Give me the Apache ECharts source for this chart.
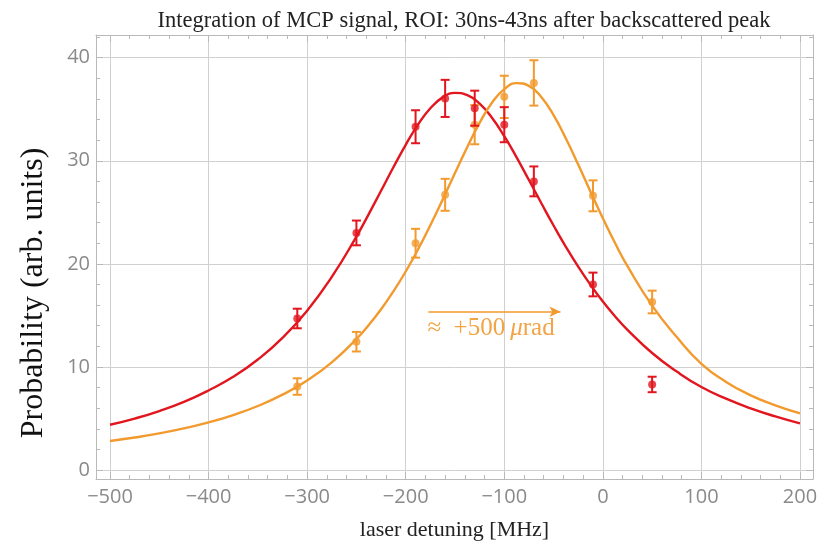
<!DOCTYPE html>
<html>
<head>
<meta charset="utf-8">
<script src="https://cdn.jsdelivr.net/npm/echarts@6/dist/echarts.min.js"></script>
<style>
  html, body { margin: 0; padding: 0; background: #ffffff; }
  #chart { width: 831px; height: 541px; }
</style>
</head>
<body>
<div id="chart"></div>
<script>
// Measured detunings (MHz)
const detuning = [-310, -250, -190, -160, -130, -100, -70, -10, 50];

// Red data set: probability and its uncertainty
const redValues = [14.7, 23.0, 33.3, 36.05, 35.1, 33.5, 28.0, 18.0, 8.3];
const redErrors = [0.95, 1.2, 1.6, 1.8, 1.7, 1.7, 1.45, 1.15, 0.75];

// Orange data set (shifted by ≈ +500 µrad)
const orangeValues = [8.1, 12.45, 22.0, 26.7, 33.5, 36.2, 37.55, 26.6, 16.3];
const orangeErrors = [0.8, 0.95, 1.4, 1.55, 1.9, 2.05, 2.2, 1.5, 1.1];

// Fitted line shapes, sampled more densely around the resonances
const fitDetuning = [-500, -475, -450, -425, -400, -375, -350, -325, -300, -275,
  -250, -237.5, -225, -212.5, -200, -187.5, -175, -162.5, -150, -137.5,
  -125, -112.5, -100, -87.5, -75, -62.5, -50, -37.5, -25, -12.5,
  0, 12.5, 25, 50, 75, 100, 125, 150, 175, 200];
const redFit = [4.39, 4.99, 5.72, 6.61, 7.72, 9.04, 10.72, 12.82, 15.46, 18.73,
  22.65, 24.83, 27.09, 29.37, 31.55, 33.51, 35.09, 36.15, 36.59, 36.37,
  35.54, 34.17, 32.38, 30.33, 28.13, 25.9, 23.72, 21.65, 19.73, 17.96,
  16.35, 14.9, 13.6, 11.35, 9.55, 8.05, 6.92, 5.98, 5.2, 4.52];
const orangeFit = [2.81, 3.15, 3.55, 4.04, 4.62, 5.33, 6.21, 7.31, 8.69, 10.45,
  12.71, 14.06, 15.59, 17.33, 19.26, 21.4, 23.74, 26.23, 28.81, 31.34,
  33.68, 35.62, 36.95, 37.53, 37.27, 36.19, 34.42, 32.16, 29.63, 27.0,
  24.43, 22.0, 19.77, 15.95, 12.9, 10.3, 8.55, 7.25, 6.28, 5.5];

// Axis extents (frame slightly wider than the labelled range)
const xExtent = [-514.2, 213.2];
const yExtent = [-0.87, 42.2];

const RED = '#e2161f';
const ORANGE = '#f29a2e';
const ORANGE_TEXT = '#f3a444';
const FRAME = '#b9b9b9';
const GRID = '#d0d0d0';
const LABEL = '#8a8a8a';

const minus = v => String(v).replace('-', '\u2212');

function pairs(xs, ys) { return xs.map((x, i) => [x, ys[i]]); }
function errorRows(xs, ys, es) { return xs.map((x, i) => [x, ys[i] - es[i], ys[i] + es[i]]); }

function errorBarRenderer(color) {
  return function (params, api) {
    const x = api.value(0);
    const lo = api.coord([x, api.value(1)]);
    const hi = api.coord([x, api.value(2)]);
    const half = 4.5;
    const style = { stroke: color, lineWidth: 2 };
    return {
      type: 'group',
      children: [
        { type: 'line', shape: { x1: lo[0], y1: lo[1], x2: hi[0], y2: hi[1] }, style },
        { type: 'line', shape: { x1: hi[0] - half, y1: hi[1], x2: hi[0] + half, y2: hi[1] }, style },
        { type: 'line', shape: { x1: lo[0] - half, y1: lo[1], x2: lo[0] + half, y2: lo[1] }, style }
      ]
    };
  };
}

const tickFont = { color: LABEL, fontSize: 20, fontFamily: 'Open Sans' };

function frameAxis(extra) {
  return Object.assign({
    type: 'value',
    axisLine: { show: true, onZero: false, lineStyle: { color: FRAME, width: 1 } },
    axisTick: { show: true, inside: true, length: 7, lineStyle: { color: FRAME } },
    minorTick: { show: true, splitNumber: 5, length: 4, lineStyle: { color: FRAME } },
    splitLine: { show: false },
    axisLabel: { show: false }
  }, extra);
}

const chart = echarts.init(document.getElementById('chart'), null, { renderer: 'canvas' });

chart.setOption({
  animation: false,
  backgroundColor: '#ffffff',
  title: {
    text: 'Integration of MCP signal, ROI: 30ns-43ns after backscattered peak',
    left: 459, top: 5, textAlign: 'center',
    textStyle: { fontFamily: 'Liberation Serif', fontWeight: 'normal', fontSize: 22.5, color: '#222' }
  },
  grid: { left: 96, right: 18, top: 35, bottom: 62, containLabel: false, outerBoundsMode: 'none' },
  xAxis: [
    frameAxis({
      min: xExtent[0], max: xExtent[1], position: 'bottom',
      name: 'laser detuning [MHz]', nameLocation: 'middle', nameGap: 40,
      nameTextStyle: { fontFamily: 'Liberation Serif', fontSize: 22, color: '#222' },
      splitLine: { show: true, lineStyle: { color: GRID, width: 1 } },
      axisLabel: Object.assign({ show: true, margin: 8, showMinLabel: false, showMaxLabel: false, formatter: minus }, tickFont)
    }),
    frameAxis({ min: xExtent[0], max: xExtent[1], position: 'top' })
  ],
  yAxis: [
    frameAxis({
      min: yExtent[0], max: yExtent[1], position: 'left',
      splitLine: { show: true, lineStyle: { color: GRID, width: 1 } },
      axisLabel: Object.assign({ show: true, margin: 6, showMinLabel: false, showMaxLabel: false }, tickFont)
    }),
    frameAxis({ min: yExtent[0], max: yExtent[1], position: 'right' })
  ],
  series: [
    {
      name: 'red fit', type: 'line', smooth: 0.5, showSymbol: false,
      data: pairs(fitDetuning, redFit),
      lineStyle: { color: RED, width: 2.4 }, z: 3
    },
    {
      name: 'orange fit', type: 'line', smooth: 0.5, showSymbol: false,
      data: pairs(fitDetuning, orangeFit),
      lineStyle: { color: ORANGE, width: 2.4 }, z: 3,
      markLine: {
        silent: true,
        symbol: ['none', 'arrow'], symbolSize: [8, 11],
        lineStyle: { color: ORANGE, width: 1.6, type: 'solid' },
        label: { show: false },
        data: [[{ coord: [-177, 15.35] }, { coord: [-43, 15.35] }]]
      }
    },
    {
      name: 'orange errors', type: 'custom', renderItem: errorBarRenderer(ORANGE),
      data: errorRows(detuning, orangeValues, orangeErrors), z: 4
    },
    {
      name: 'orange data', type: 'scatter', symbol: 'circle', symbolSize: 8,
      data: pairs(detuning, orangeValues),
      itemStyle: { color: ORANGE }, z: 5
    },
    {
      name: 'red errors', type: 'custom', renderItem: errorBarRenderer(RED),
      data: errorRows(detuning, redValues, redErrors), z: 6
    },
    {
      name: 'red data', type: 'scatter', symbol: 'circle', symbolSize: 8,
      data: pairs(detuning, redValues),
      itemStyle: { color: RED }, z: 7
    }
  ]
});

// Vertical axis title and the shift annotation below the arrow
const anchor = chart.convertToPixel({ xAxisIndex: 0, yAxisIndex: 0 }, [-177, 15.35]);
chart.setOption({
  graphic: [{
    type: 'text', x: 34, y: 293, rotation: Math.PI / 2, z: 10,
    style: {
      text: 'Probability (arb. units)', align: 'center', verticalAlign: 'middle',
      fontFamily: 'Liberation Serif', fontSize: 32, fill: '#111'
    }
  }, {
    type: 'text', x: anchor[0] - 1, y: anchor[1] + 4, z: 10,
    style: {
      text: '{a|\u2248  +500\u2009}{i|\u03bc}{a|rad}',
      rich: {
        a: { fontFamily: 'Liberation Serif', fontSize: 25, fill: ORANGE_TEXT },
        i: { fontFamily: 'Liberation Serif', fontStyle: 'italic', fontSize: 25, fill: ORANGE_TEXT }
      }
    }
  }]
});
</script>
</body>
</html>
